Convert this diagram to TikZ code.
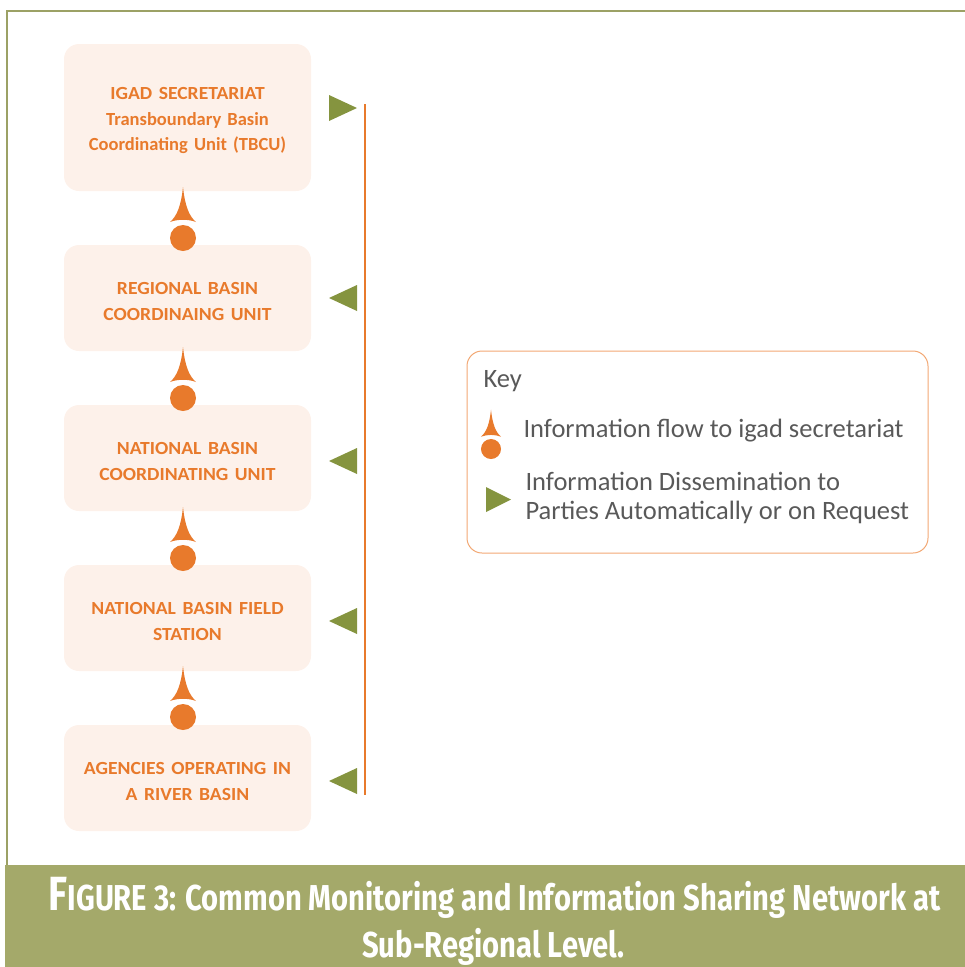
\documentclass[tikz,border=0pt]{standalone}
\usepackage{fontspec}
\setmainfont{Carlito}
\newfontfamily\capfont{Fira Sans}
\usetikzlibrary{positioning}

\definecolor{boxfill}{HTML}{FDF1EA}
\definecolor{flow}{HTML}{E87A2C}
\definecolor{spread}{HTML}{85943F}
\definecolor{band}{HTML}{A4A96A}
\definecolor{keyline}{HTML}{F2A874}
\definecolor{keytext}{HTML}{595959}

\newcommand{\spaced}[1]{\scalebox{1.06}[1]{#1}}
% spike with a dot under it: #1 name, #2 centre of dot, #3 scale
\newcommand{\flowmark}[3]{%
  \begin{scope}[shift={#2}, scale=#3]
    \fill[flow] (0,-51) .. controls (2,-32) and (6,-22) .. (13,-16)
      .. controls (5,-19) and (-5,-19) .. (-13,-16)
      .. controls (-6,-22) and (-2,-32) .. (0,-51) -- cycle;
    \fill[flow] (0,0) circle (13);
    \coordinate (#1) at (0,0);
  \end{scope}}
% triangle: #1 name, #2 centre, #3 +1 right, -1 left
\newcommand{\spreadmark}[3]{%
  \begin{scope}[shift={#2}, xscale=#3]
    \fill[spread] (-14,-13) -- (14,0) -- (-14,13) -- cycle;
    \coordinate (#1) at (0,0);
  \end{scope}}

\begin{document}
\begin{tikzpicture}[x=1pt,y=-1pt,node distance=160pt,on grid,
  level/.style={rectangle, rounded corners=15pt, fill=boxfill,
    minimum width=247pt, minimum height=106pt, text width=240pt,
    align=center, text=flow, font=\bfseries\fontsize{18.5}{25.5}\selectfont,
    execute at begin node={\rule{0pt}{19pt}}},
  keyitem/.style={anchor=west, text=keytext, align=left,
    font=\fontsize{26.5}{29}\selectfont},
  capline/.style={anchor=base, text=white,
    font=\capfont\bfseries\fontsize{36}{40}\selectfont}]
\useasboundingbox (0,0) rectangle (965,967);

% frame and caption band
\draw[band!95!black, line width=1.5pt] (965,11) -- (7,11) -- (7,866);
\fill[band] (5,865) rectangle (965,967);
\node[capline] (cap_1) at (494.5,910)
  {\scalebox{0.81}[1]{{\fontsize{48}{50}\selectfont F}IGURE 3: Common Monitoring and Information Sharing Network at}};
\node[capline] (cap_2) at (493.5,957) {\scalebox{0.81}[1]{Sub-Regional Level.}};

% the levels
\node[level, minimum height=147pt] (l_0) at (187.5,117.5)
  {\spaced{IGAD SECRETARIAT}\\Transboundary Basin\\Coordinating Unit (TBCU)};
\node[level] (l_1) [below=180.5pt of l_0] {\spaced{REGIONAL BASIN}\\\spaced{COORDINAING UNIT}};
\node[level] (l_2) [below=of l_1] {\spaced{NATIONAL BASIN}\\\spaced{COORDINATING UNIT}};
\node[level] (l_3) [below=of l_2] {\spaced{NATIONAL BASIN FIELD}\\\spaced{STATION}};
\node[level] (l_4) [below=of l_3] {\spaced{AGENCIES OPERATING IN}\\\spaced{A RIVER BASIN}};

% information flow upwards
\flowmark{f_1}{(183,238)}{1}
\flowmark{f_2}{(183,398)}{1}
\flowmark{f_3}{(183,558)}{1}
\flowmark{f_4}{(183,717)}{1}

% dissemination line
\coordinate (top) at (365,104);
\coordinate (bottom) at (365,795);
\draw[flow, line width=1.5pt] (top) -- (bottom);
\spreadmark{s_0}{(343,108)}{1}
\spreadmark{s_1}{(343,298)}{-1}
\spreadmark{s_2}{(343,461)}{-1}
\spreadmark{s_3}{(343,621)}{-1}
\spreadmark{s_4}{(343,781)}{-1}

% key
\node[draw=keyline, line width=1pt, rounded corners=15pt,
  minimum width=461pt, minimum height=202pt] (key) at (697.5,452) {};
\node[keyitem] (k_title) at (480,381) {Key};
\flowmark{k_flow}{(491,449)}{0.77}
\node[keyitem] (k_1) at (520,431) {Information flow to igad secretariat};
\fill[spread] (486,487) -- (511,499.5) -- (486,512) -- cycle;
\node[keyitem] (k_2) at (522,498)
  {Information Dissemination to\\Parties Automatically or on Request};
\end{tikzpicture}
\end{document}
